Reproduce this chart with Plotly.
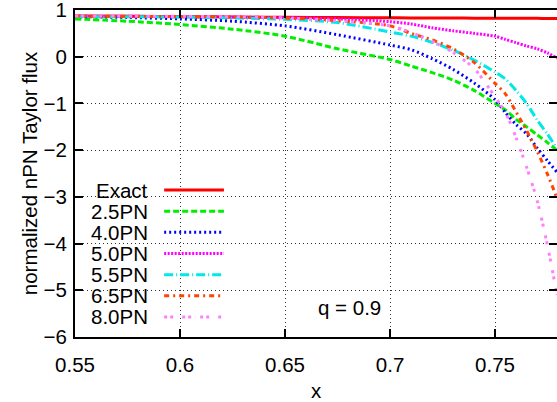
import plotly.graph_objects as go

FONT = "Liberation Sans, Arial, Helvetica, sans-serif"
FS = 20.5

x = [0.55, 0.575, 0.6, 0.625, 0.65, 0.675, 0.7, 0.71, 0.72, 0.73,
     0.74, 0.75, 0.755, 0.76, 0.765, 0.77, 0.775, 0.7795]

exact = [0.87, 0.865, 0.857, 0.85, 0.843, 0.838, 0.833, 0.831, 0.829, 0.827,
         0.826, 0.824, 0.823, 0.823, 0.822, 0.821, 0.82, 0.82]
pn25 = [0.81, 0.76, 0.69, 0.59, 0.44, 0.17, -0.06, -0.2, -0.34, -0.5,
        -0.72, -1.0, -1.14, -1.34, -1.5, -1.67, -1.84, -2.0]
pn40 = [0.86, 0.84, 0.81, 0.76, 0.66, 0.47, 0.25, 0.15, -0.04, -0.27,
        -0.56, -0.92, -1.2, -1.45, -1.65, -1.95, -2.23, -2.47]
pn50 = [0.87, 0.865, 0.86, 0.85, 0.835, 0.81, 0.75, 0.7, 0.62, 0.555,
        0.5, 0.44, 0.37, 0.3, 0.23, 0.17, 0.08, -0.03]
pn55 = [0.86, 0.855, 0.85, 0.83, 0.8, 0.73, 0.53, 0.44, 0.31, 0.14,
        -0.07, -0.33, -0.48, -0.72, -1.0, -1.35, -1.66, -1.97]
pn65 = [0.87, 0.865, 0.86, 0.85, 0.83, 0.77, 0.66, 0.5, 0.36, 0.17,
        -0.12, -0.57, -0.8, -1.18, -1.58, -2.02, -2.52, -3.03]
pn80 = [0.875, 0.87, 0.865, 0.855, 0.83, 0.77, 0.66, 0.52, 0.33, 0.09,
        -0.25, -0.86, -1.2, -1.73, -2.36, -3.07, -4.05, -5.1]

names = ["Exact", "2.5PN", "4.0PN", "5.0PN", "5.5PN", "6.5PN", "8.0PN"]
series = [exact, pn25, pn40, pn50, pn55, pn65, pn80]
colors = ["#ff0000", "#00ee00", "#0000ff", "#ff00ff", "#00e8e8", "#ff4500", "#ff80ff"]
dashes = ["solid", "6px,3px", "2px,3px", "2px,1.5px", "9px,3px,1px,3px",
          "5px,4px,2px,4px", "3px,3px,3px,9px"]
widths = [3, 3, 3, 3, 3, 3, 3]

fig = go.Figure()
for name, y, c, d, w in zip(names, series, colors, dashes, widths):
    fig.add_trace(go.Scatter(
        x=x, y=y, name=name, mode="lines",
        line=dict(color=c, dash=d, width=w, shape="spline", smoothing=0.8),
        showlegend=False, hoverinfo="skip",
    ))

# opaque key box, gnuplot style (text on the left, sample on the right)
fig.add_shape(type="rect", xref="paper", yref="paper", x0=0, x1=0.334, y0=0, y1=0.486,
              fillcolor="white", line=dict(width=0), layer="between")
row0, step = 0.4495, 0.0647
for i, (name, c, d, w) in enumerate(zip(names, colors, dashes, widths)):
    yy = row0 - i * step
    fig.add_annotation(text=name, xref="paper", yref="paper", x=0.156, y=yy,
                       xanchor="right", yanchor="middle", showarrow=False,
                       font=dict(size=FS, color="black"))
    fig.add_shape(type="line", xref="paper", yref="paper", x0=0.185, x1=0.309, y0=yy, y1=yy,
                  line=dict(color=c, dash=d, width=w), layer="above")

fig.add_annotation(text="q = 0.9", x=0.6807, y=-5.36, showarrow=False,
                   font=dict(size=FS, color="black"))

axis_common = dict(
    showline=True, linecolor="black", linewidth=2, mirror="ticks",
    ticks="inside", ticklen=8, tickwidth=1.5, tickcolor="black",
    showgrid=True, gridcolor="#333", gridwidth=1, griddash="1px,3px",
    zeroline=False, tickfont=dict(size=FS, color="black"), automargin=False,
    ticklabeloverflow="allow",
)
fig.update_xaxes(range=[0.55, 0.7795], tickvals=[0.55, 0.6, 0.65, 0.7, 0.75],
                 ticktext=["0.55", "0.6", "0.65", "0.7", "0.75"],
                 ticklabelstandoff=8,
                 title=dict(text="x", font=dict(size=FS, color="black"), standoff=24),
                 **axis_common)
fig.update_yaxes(range=[-6, 1], tickvals=list(range(-6, 2)),
                 ticklabelstandoff=2,
                 title=dict(text="normalized nPN Taylor flux", font=dict(size=FS, color="black"),
                            standoff=0),
                 **axis_common)

fig.update_layout(
    width=557, height=402,
    margin=dict(l=75, r=0, t=10, b=65),
    paper_bgcolor="white", plot_bgcolor="white",
    font=dict(family=FONT, color="black", size=FS),
    hovermode=False,
)

# drop the default body margin so the figure fills the window
fig.write_html("out.html", config={"displayModeBar": False},
               post_script="document.body.style.margin='0';")
